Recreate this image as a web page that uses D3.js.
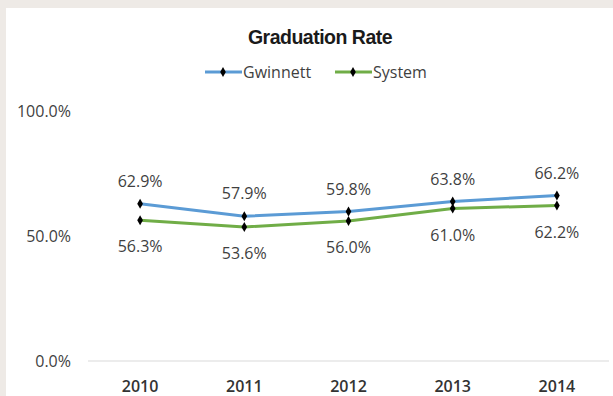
<!DOCTYPE html>
<html>
<head>
<meta charset="utf-8">
<script src="https://cdn.jsdelivr.net/npm/d3@7"></script>
<style>
  body { margin: 0; background: #eeeae6; }
  svg { display: block; }
  text { font-family: "Open Sans", Lato, sans-serif; }
</style>
</head>
<body>
<div id="chart"></div>
<script>
    // graduation rate by year
    const years = ["2010", "2011", "2012", "2013", "2014"];
    const gwinnett = [62.9, 57.9, 59.8, 63.8, 66.2];
    const system = [56.3, 53.6, 56.0, 61.0, 62.2];
    const yTicks = [0, 50, 100];

    const W = 613, H = 396;
    const series = [
        { name: "Gwinnett", values: gwinnett, color: "#5b9bd5", labelAbove: true },
        { name: "System", values: system, color: "#70ad47", labelAbove: false }
    ];

    var svg = d3.select("#chart").append("svg")
        .attr("width", W)
        .attr("height", H);

    // white chart panel on the beige page
    svg.append("rect")
        .attr("x", 6).attr("y", 8)
        .attr("width", W - 6).attr("height", H - 8)
        .attr("fill", "#ffffff");

    var x = d3.scaleBand().domain(years).range([88, 609]);
    var y = d3.scaleLinear().domain([0, 100]).range([361, 111]);

    // title
    svg.append("text")
        .attr("x", 320).attr("y", 44)
        .attr("text-anchor", "middle")
        .style("font-family", "'Liberation Sans', Arial, sans-serif")
        .style("font-weight", "bold")
        .style("font-size", "19.5px")
        .style("letter-spacing", "-0.5px")
        .attr("fill", "#1a1a1a")
        .text("Graduation Rate");

    // y axis labels
    svg.append("g")
        .selectAll("text")
        .data(yTicks)
        .join("text")
        .attr("x", 71)
        .attr("y", d => y(d) + 6)
        .attr("text-anchor", "end")
        .style("font-size", "16px")
        .attr("fill", "#3f3f3f")
        .text(d => d.toFixed(1) + "%");

    // baseline
    svg.append("line")
        .attr("x1", 88).attr("x2", 609)
        .attr("y1", y(0)).attr("y2", y(0))
        .attr("stroke", "#d9d9d9")
        .attr("stroke-width", 1.2);

    // x axis labels
    svg.append("g")
        .selectAll("text")
        .data(years)
        .join("text")
        .attr("x", d => x(d) + x.bandwidth() / 2)
        .attr("y", 392)
        .attr("text-anchor", "middle")
        .style("font-size", "16px")
        .style("font-weight", "600")
        .attr("fill", "#333")
        .text(d => d);

    var line = d3.line()
        .x((d, i) => x(years[i]) + x.bandwidth() / 2)
        .y(d => y(d));

    var diamond = d3.symbol().type(d3.symbolDiamond).size(28);

    series.forEach(s => {
        var g = svg.append("g");
        g.append("path")
            .attr("d", line(s.values))
            .attr("fill", "none")
            .attr("stroke", s.color)
            .attr("stroke-width", 3);

        g.selectAll("path.pt")
            .data(s.values)
            .join("path")
            .attr("class", "pt")
            .attr("d", diamond)
            .attr("transform", (d, i) => `translate(${x(years[i]) + x.bandwidth() / 2},${y(d)})`)
            .attr("fill", "#000");

        g.selectAll("text")
            .data(s.values)
            .join("text")
            .attr("x", (d, i) => x(years[i]) + x.bandwidth() / 2)
            .attr("y", d => s.labelAbove ? y(d) - 17 : y(d) + 32)
            .attr("text-anchor", "middle")
            .style("font-size", "16px")
            .attr("fill", "#3f3f3f")
            .text(d => d.toFixed(1) + "%");
    });

    // legend
    var legendPos = [205, 335];
    series.forEach((s, i) => {
        var lg = svg.append("g").attr("transform", `translate(${legendPos[i]},72)`);
        lg.append("line")
            .attr("x1", 0).attr("x2", 37)
            .attr("stroke", s.color)
            .attr("stroke-width", 3);
        lg.append("path")
            .attr("d", diamond)
            .attr("transform", "translate(18,0)")
            .attr("fill", "#000");
        lg.append("text")
            .attr("x", 38).attr("y", 6)
            .style("font-size", "16px")
            .attr("fill", "#3f3f3f")
            .text(s.name);
    });
</script>
</body>
</html>
